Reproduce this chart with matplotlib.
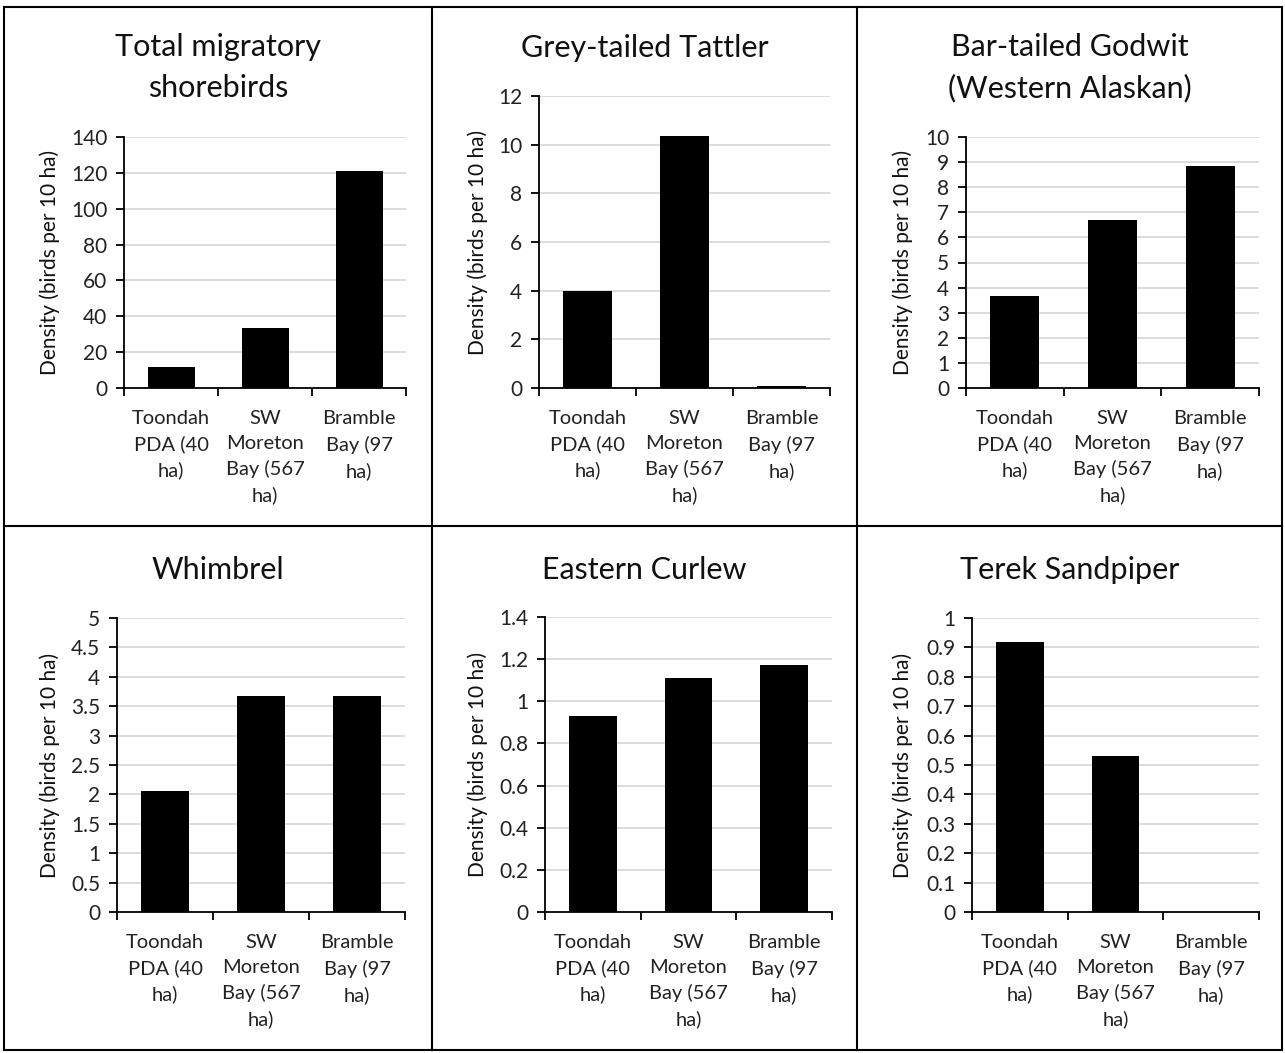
import matplotlib
matplotlib.use("Agg")
import matplotlib.pyplot as plt
from matplotlib.ticker import FixedLocator, FuncFormatter
from matplotlib.lines import Line2D

plt.rcParams['font.family'] = ['Lato', 'DejaVu Sans']

sites = ["Toondah\nPDA (40\nha)", "SW\nMoreton\nBay (567\nha)", "Bramble\nBay (97\nha)"]

titles = [
    "Total migratory\nshorebirds",
    "Grey-tailed Tattler",
    "Bar-tailed Godwit\n(Western Alaskan)",
    "Whimbrel",
    "Eastern Curlew",
    "Terek Sandpiper",
]

total_shorebirds = [11.5, 33.4, 121.0]
grey_tailed_tattler = [4.0, 10.35, 0.07]
bar_tailed_godwit = [3.67, 6.68, 8.83]
whimbrel = [2.06, 3.67, 3.68]
eastern_curlew = [0.93, 1.11, 1.17]
terek_sandpiper = [0.92, 0.53, 0.0]

y_max = [140, 12, 10, 5, 1.4, 1]
y_step = [20, 2, 1, 0.5, 0.2, 0.1]

ylabel = "Density (birds per 10 ha)"

series = [total_shorebirds, grey_tailed_tattler, bar_tailed_godwit,
          whimbrel, eastern_curlew, terek_sandpiper]

W, H = 1285, 1053
fig = plt.figure(figsize=(W / 100, H / 100), dpi=100)

# axes boxes in pixels: left, right, top, bottom
boxes = [
    (124, 406, 137, 388),
    (539, 830, 96, 388),
    (966, 1259, 137, 388),
    (117, 405, 618, 912),
    (545, 832, 617, 912),
    (972, 1259, 618, 912),
]
panel_x = [4, 432, 857, 1282]
panel_y = [7, 526, 1050]
title_y = [[47, 88], [48], [47, 88], [570], [570], [570]]


def fmt(v, pos):
    return f"{round(v, 2):g}"


for i, (vals, title) in enumerate(zip(series, titles)):
    l, r, t, b = boxes[i]
    ax = fig.add_axes([l / W, 1 - b / H, (r - l) / W, (b - t) / H])
    x = range(len(sites))
    ax.bar(x, vals, width=0.5, color="black", zorder=3)
    ax.set_xlim(-0.5, 2.5)
    ax.set_ylim(0, y_max[i])
    n = int(round(y_max[i] / y_step[i]))
    yt = [k * y_step[i] for k in range(n + 1)]
    ax.yaxis.set_major_locator(FixedLocator(yt))
    ax.yaxis.set_major_formatter(FuncFormatter(fmt))
    for v in yt[1:]:
        ax.axhline(v, color="#d9d9d9", lw=1.3, zorder=1)
    ax.set_xticks(list(x))
    ax.set_xticklabels(sites, fontsize=14.5, linespacing=1.55, color="#222222")
    ax.set_xticks([-0.5, 0.5, 1.5, 2.5], minor=True)
    ax.tick_params(axis="x", which="major", length=0, pad=16)
    ax.tick_params(axis="x", which="minor", length=6, width=1.3, direction="out")
    ax.tick_params(axis="y", length=6, width=1.3, direction="out", labelsize=15,
                   pad=6, labelcolor="#222222")
    for s in ["top", "right"]:
        ax.spines[s].set_visible(False)
    for s in ["left", "bottom"]:
        ax.spines[s].set_linewidth(1.3)
        ax.spines[s].set_zorder(4)

    col = i % 3
    pl, pr = panel_x[col], panel_x[col + 1]
    cx = (pl + pr) / 2
    for line, yy in zip(title.split("\n"), title_y[i]):
        fig.text(cx / W, 1 - yy / H, line, ha="center", va="center", fontsize=22,
                 color="#111111")
    fig.text((pl + 46) / W, 1 - ((t + b) / 2) / H, ylabel, rotation=90,
             ha="center", va="center", fontsize=15, color="#111111")

# panel borders
for px in panel_x:
    fig.add_artist(Line2D([px / W, px / W], [1 - panel_y[0] / H, 1 - panel_y[-1] / H],
                          color="black", lw=1.5))
for py in panel_y:
    fig.add_artist(Line2D([panel_x[0] / W, panel_x[-1] / W], [1 - py / H, 1 - py / H],
                          color="black", lw=1.5))

fig.savefig("out.png", dpi=100)
